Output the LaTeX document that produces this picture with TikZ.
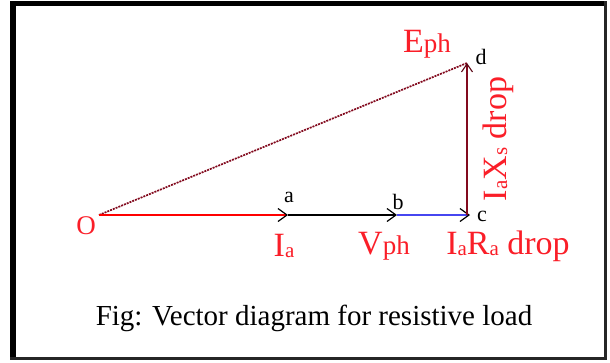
\documentclass[tikz,border=0pt]{standalone}
\usepackage{fontspec}
\setmainfont{Liberation Serif}
\usetikzlibrary{arrows.meta}
\definecolor{lblred}{RGB}{250,30,40}
\definecolor{maroon}{RGB}{130,10,30}
\definecolor{vblue}{RGB}{70,70,240}
\newcommand\smallsub[1]{\raisebox{-1pt}{\fontsize{21}{21}\selectfont #1}}
\newcommand\smallph[1]{{\fontsize{27}{27}\selectfont #1}}
\tikzset{
  x=1pt,y=-1pt,
  lbl/.style={text=lblred,font=\fontsize{34}{34}\selectfont,inner sep=0pt,anchor=center},
  pt/.style={text=black,font=\fontsize{22}{22}\selectfont,inner sep=0pt},
  barb/.style={-{Straight Barb[length=9pt,width=13pt,line width=1.2pt,color=black]}},
  vec/.style={line width=1.5pt},
}
\begin{document}
\begin{tikzpicture}
\useasboundingbox (0,0) rectangle (610,362);
% frame
\fill[black] (10,1) rectangle (16,360);
\fill[black] (10,1) rectangle (606,6);
\fill[black!85] (603.5,1) rectangle (606.5,360);
\fill[black!85] (10,357) rectangle (606.5,360);
% points
\coordinate (O) at (99,215);
\coordinate (a) at (288,215);
\coordinate (b) at (397,215);
\coordinate (c) at (470,215);
\coordinate (cc) at (467,215);
\coordinate (d) at (467,63);
% vectors
\draw[vec,maroon,line width=1.7pt,dash pattern=on 2pt off 1pt] (O) -- (d);
\draw[vec,red,barb] (O) -- (a);
\draw[vec,black,barb] (a) -- (b);
\draw[vec,vblue,barb] (b) -- (c);
\draw[vec,maroon,-{Straight Barb[length=8pt,width=11pt,line width=1.1pt,color=maroon!70!black]}] (cc) -- (d);
% point labels
\node[lbl,font=\fontsize{27}{27}\selectfont] (lO) at (86,226) {O};
\node[pt] (la) at (289,197) {a};
\node[pt] (lb) at (398,202) {b};
\node[pt] (lc) at (482,216) {c};
\node[pt] (ld) at (481,57) {d};
% vector labels
\node[lbl] (lE) at (427,44) {E\smallph{ph}};
\node[lbl] (lI) at (284,246) {I\smallsub{a}};
\node[lbl] (lV) at (384,246) {V\smallph{ph}};
\node[lbl] (lR) at (508,246) {I\smallsub{a}R\smallsub{a} drop};
\node[lbl,rotate=90] (lX) at (498,139) {I\smallsub{a}X\smallsub{s} drop};
% caption
\node[inner sep=0pt,font=\fontsize{29}{29}\selectfont] (cap) at (314,318) {Fig: Vector diagram for resistive load};
\end{tikzpicture}
\end{document}
